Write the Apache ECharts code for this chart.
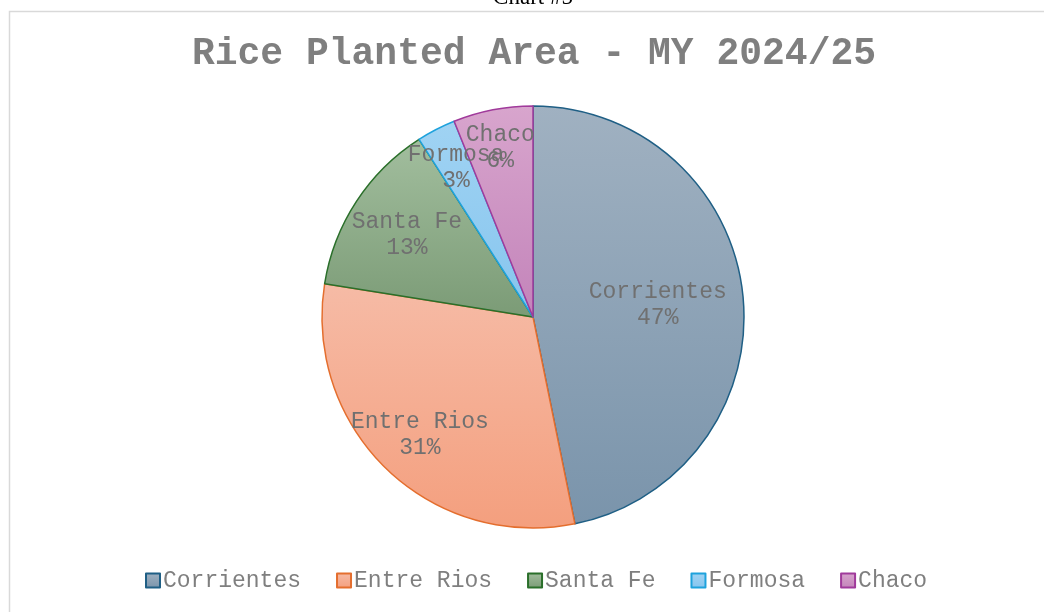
<!DOCTYPE html>
<html lang="en" style="height: 100%">
<head>
  <meta charset="utf-8">
  <style>
    body { margin: 0; background: #ffffff; }
  </style>
</head>
<body style="height: 100%; margin: 0">
  <div id="container" style="width: 1044px; height: 612px"></div>

  <script type="text/javascript" src="https://cdn.jsdelivr.net/npm/echarts@6/dist/echarts.min.js"></script>

  <script type="text/javascript">
    // planted area by province, hectares
    var provinces = ['Corrientes', 'Entre Rios', 'Santa Fe', 'Formosa', 'Chaco'];
    var areaHa = [105200, 69000, 30100, 6700, 13700];

    // styling per slice
    var topColors = ['#a0b1c1', '#f6bba6', '#a2be9e', '#a0d3f3', '#d8a5cd'];
    var bottomColors = ['#7a94ab', '#f49f7e', '#7b9b76', '#86c5ee', '#c384ba'];
    var borderColors = ['#1f5f85', '#e46e2e', '#2a6f2a', '#1ea2dc', '#a03a9b'];
    var labelRadius = [0.58, 0.76, 0.70, 0.78, 0.80];

    var CX = 533, CY = 317, R = 211;

    var dom = document.getElementById('container');
    var myChart = echarts.init(dom, null, { renderer: 'canvas' });

    var total = areaHa.reduce(function (a, b) { return a + b; }, 0);
    var midAngles = [];
    var acc = 0;
    areaHa.forEach(function (v) {
      midAngles.push((acc + v / 2) / total * Math.PI * 2);
      acc += v;
    });

    var pieData = provinces.map(function (name, i) {
      return {
        name: name,
        value: areaHa[i],
        itemStyle: {
          color: new echarts.graphic.LinearGradient(0, 0, 0, 1, [
            { offset: 0, color: topColors[i] },
            { offset: 1, color: bottomColors[i] }
          ]),
          borderColor: borderColors[i],
          borderWidth: 1.5
        }
      };
    });

    var option = {
      animation: false,
      graphic: [
        {
          type: 'rect',
          shape: { x: 9.5, y: 11.5, width: 1100, height: 700 },
          style: { fill: 'none', stroke: '#d9d9d9', lineWidth: 1.5 },
          silent: true
        },
        {
          type: 'text',
          x: 533,
          y: -2,
          style: {
            text: 'Chart #5',
            font: '23px "Liberation Serif"',
            fill: '#000000',
            textAlign: 'center',
            textVerticalAlign: 'middle'
          },
          silent: true
        }
      ],
      title: {
        text: 'Rice Planted Area - MY 2024/25',
        left: 529,
        textAlign: 'center',
        top: 30,
        textStyle: {
          fontFamily: 'Liberation Mono',
          fontWeight: 'bold',
          fontSize: 38,
          color: '#7f7f7f'
        }
      },
      legend: {
        data: provinces,
        left: 140,
        top: 564,
        itemWidth: 14,
        itemHeight: 14,
        itemGap: 35,
        icon: 'rect',
        textStyle: {
          fontFamily: 'Liberation Mono',
          fontSize: 23,
          color: '#7f7f7f',
          padding: [0, 0, 0, -2]
        }
      },
      series: [{
        type: 'pie',
        center: [CX, CY],
        radius: R,
        startAngle: 90,
        clockwise: true,
        percentPrecision: 0,
        emphasis: { disabled: true },
        label: {
          show: true,
          position: 'inside',
          formatter: '{b}\n{d}%',
          fontFamily: 'Liberation Mono',
          fontSize: 23,
          lineHeight: 26,
          color: '#707070'
        },
        labelLayout: function (params) {
          var i = params.dataIndex;
          var d = (labelRadius[i] - 0.5) * R;
          return {
            dx: d * Math.sin(midAngles[i]),
            dy: -d * Math.cos(midAngles[i])
          };
        },
        data: pieData
      }]
    };

    myChart.setOption(option);
    window.addEventListener('resize', myChart.resize);
  </script>
</body>
</html>
